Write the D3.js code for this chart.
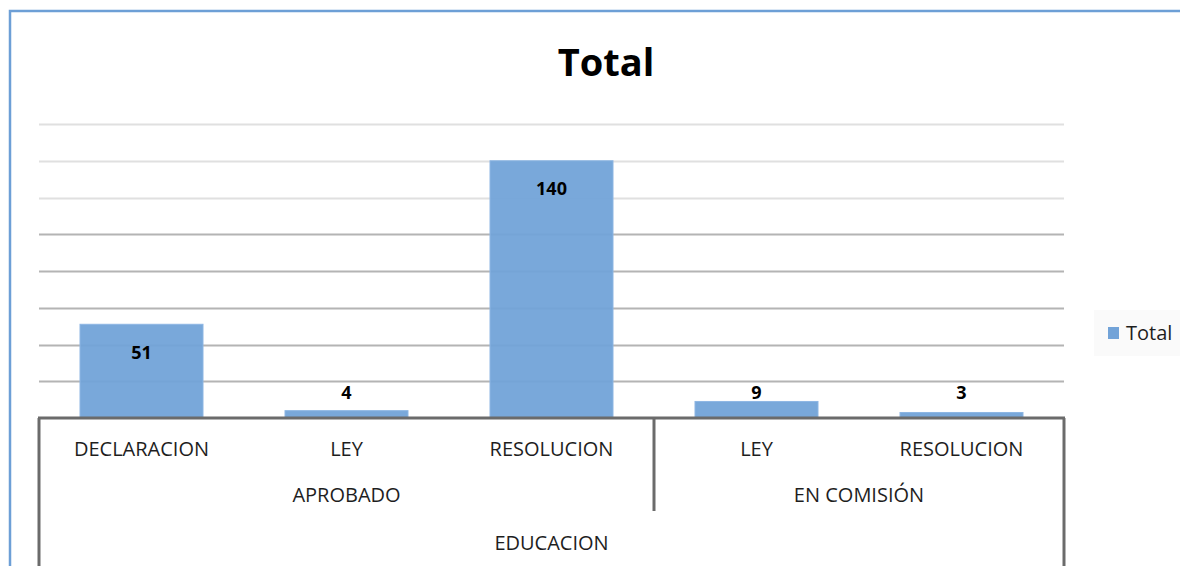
<!DOCTYPE html>
<html>
<head>
<meta charset="utf-8">
<script src="https://cdn.jsdelivr.net/npm/d3@7"></script>
<style>
  body { margin: 0; background: #fff; }
  svg { display: block; font-family: "Open Sans", "Noto Sans", sans-serif; }
</style>
</head>
<body>
<script>
// data
var tipos = ["DECLARACION", "LEY", "RESOLUCION", "LEY", "RESOLUCION"];
var estados = ["APROBADO", "APROBADO", "APROBADO", "EN COMISIÓN", "EN COMISIÓN"];
var comision = "EDUCACION";
var valores = [51, 4, 140, 9, 3];
var yTicks = [0, 20, 40, 60, 80, 100, 120, 140, 160];
var serieNombre = "Total";

var w = 1180, h = 566;
var margin = {top: 124, left: 39, right: 116, bottom: 148};
var width = w - margin.left - margin.right;
var height = h - margin.top - margin.bottom;

var svg = d3.select("body").append("svg")
  .attr("width", w)
  .attr("height", h);

// blue frame (top + left edges visible)
svg.append("path")
  .attr("d", "M10," + h + "V11H" + w)
  .attr("fill", "none")
  .attr("stroke", "#6d9fd6")
  .attr("stroke-width", 2.5);

svg.append("text")
  .attr("x", 606)
  .attr("y", 76)
  .attr("text-anchor", "middle")
  .style("font-size", "38px")
  .style("font-weight", "bold")
  .attr("fill", "#000")
  .text("Total");

var chart = svg.append("g")
  .attr("transform", "translate(" + margin.left + "," + margin.top + ")");

var x = d3.scaleBand()
  .domain(d3.range(valores.length))
  .range([0, width])
  .paddingInner(0.4)
  .paddingOuter(0.2);

var y = d3.scaleLinear()
  .domain([0, 160])
  .range([height, 0]);

//gridlines
chart.append("g")
  .selectAll("line")
  .data(yTicks.filter(function(t){ return t > 0; }))
  .enter().append("line")
    .attr("x1", 0)
    .attr("x2", width)
    .attr("y1", function(d){ return Math.round(y(d)) + 0.5; })
    .attr("y2", function(d){ return Math.round(y(d)) + 0.5; })
    .attr("stroke", function(d){ return d >= 120 ? "#e0e0e0" : "#b4b4b4"; })
    .attr("stroke-width", 2);

chart.selectAll(".bar")
  .data(valores)
  .enter().append("rect")
    .classed("bar", true)
    .attr("x", function(d, i){ return x(i); })
    .attr("y", function(d){ return y(d); })
    .attr("width", x.bandwidth())
    .attr("height", function(d){ return height - y(d); })
    .attr("fill", "#72a3d8")
    .attr("fill-opacity", 0.95)
    .attr("stroke", "#8db6e3")
    .attr("stroke-width", 1);

chart.selectAll(".bar-label")
  .data(valores)
  .enter().append("text")
    .classed("bar-label", true)
    .attr("x", function(d, i){ return x(i) + x.bandwidth() / 2; })
    .attr("y", function(d){ return Math.min(y(d) + 28, height - 25); })
    .attr("dy", "0.35em")
    .attr("text-anchor", "middle")
    .style("font-size", "18px")
    .style("font-weight", "bold")
    .attr("fill", "#000")
    .text(function(d){ return d; });

// multi-level category axis
var axis = chart.append("g")
  .attr("transform", "translate(0," + height + ")");
var step = x.step();
var axisColor = "#6b6b6b";

axis.append("line")
  .attr("x1", -1).attr("x2", width + 1)
  .attr("y1", 0).attr("y2", 0)
  .attr("stroke", axisColor).attr("stroke-width", 3);

axis.selectAll(".tipo")
  .data(tipos)
  .enter().append("text")
    .attr("x", function(d, i){ return x(i) + x.bandwidth() / 2; })
    .attr("y", 31)
    .attr("dy", "0.35em")
    .attr("text-anchor", "middle")
    .style("font-size", "20px")
    .attr("fill", "#1e1e1e")
    .text(function(d){ return d; });

// group the second level
var grupos = [];
estados.forEach(function(e, i){
  var last = grupos[grupos.length - 1];
  if (last && last.name === e) last.end = i;
  else grupos.push({name: e, start: i, end: i});
});

axis.selectAll(".estado")
  .data(grupos)
  .enter().append("text")
    .attr("x", function(d){ return (d.start + d.end + 1) / 2 * step; })
    .attr("y", 77)
    .attr("dy", "0.35em")
    .attr("text-anchor", "middle")
    .style("font-size", "20px")
    .attr("fill", "#1e1e1e")
    .text(function(d){ return d.name; });

// separators between groups
axis.selectAll(".sep")
  .data(grupos.slice(1))
  .enter().append("line")
    .attr("x1", function(d){ return d.start * step; })
    .attr("x2", function(d){ return d.start * step; })
    .attr("y1", 0).attr("y2", 93)
    .attr("stroke", axisColor).attr("stroke-width", 3);

axis.selectAll(".edge")
  .data([0, width])
  .enter().append("line")
    .attr("x1", function(d){ return d; })
    .attr("x2", function(d){ return d; })
    .attr("y1", 0).attr("y2", margin.bottom)
    .attr("stroke", axisColor).attr("stroke-width", 3);

axis.append("text")
  .attr("x", width / 2)
  .attr("y", 125)
  .attr("dy", "0.35em")
  .attr("text-anchor", "middle")
  .style("font-size", "20px")
  .attr("fill", "#1e1e1e")
  .text(comision);

// legend
var legend = svg.append("g")
  .attr("transform", "translate(1094,310)");
legend.append("rect")
  .attr("width", 86).attr("height", 46)
  .attr("fill", "#fafafa");
legend.append("rect")
  .attr("x", 14).attr("y", 17)
  .attr("width", 11).attr("height", 12)
  .attr("fill", "#72a3d8");
legend.append("text")
  .attr("x", 32).attr("y", 23)
  .attr("dy", "0.35em")
  .style("font-size", "20px")
  .attr("fill", "#1e1e1e")
  .text(serieNombre);
</script>
</body>
</html>
